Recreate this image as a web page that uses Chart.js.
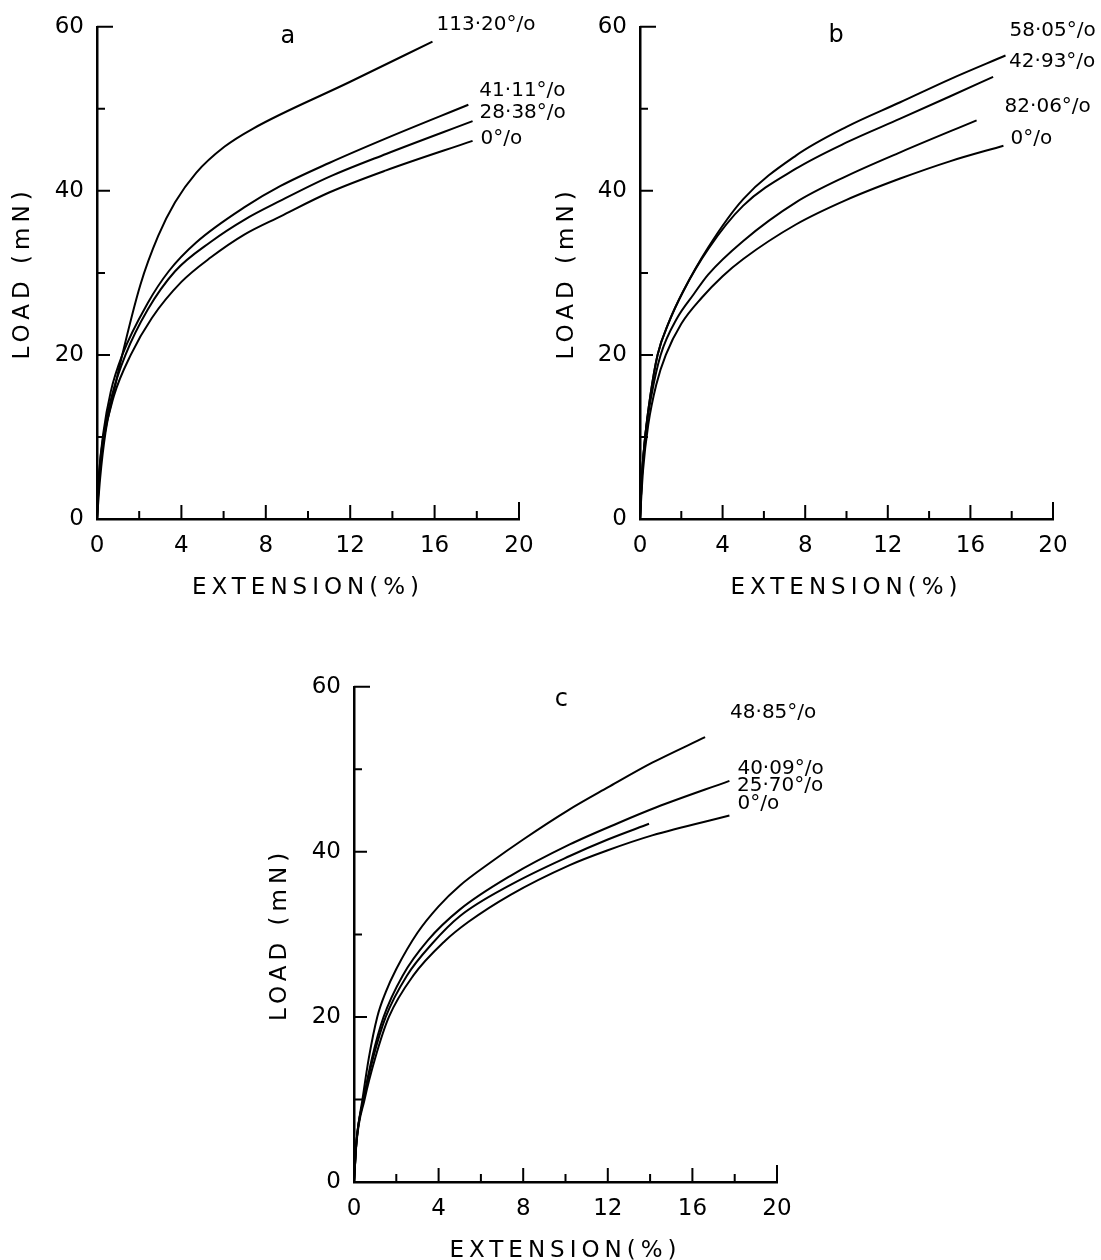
<!DOCTYPE html>
<html>
<head>
<meta charset="utf-8">
<title>Load-extension curves</title>
<script src="https://cdn.jsdelivr.net/npm/chart.js@4.4.1/dist/chart.umd.min.js"></script>
<style>
  html, body { margin: 0; padding: 0; background: #fff; overflow: hidden; }
  body { width: 1101px; height: 1260px; position: relative; }
  canvas { position: absolute; }
</style>
</head>
<body>
<canvas id="chartA" width="600" height="602" style="left:0;top:0"></canvas>
<canvas id="chartB" width="556" height="602" style="left:545px;top:0"></canvas>
<canvas id="chartC" width="843" height="605" style="left:258px;top:660px"></canvas>
<script>
// ---- panel a ----
const extA1 = [0, 0.15, 0.4, 0.8, 1.15, 2.05, 2.9, 3.7, 4.7, 6.05, 7.4, 12, 15.9];
const loadA1 = [0, 5, 10.5, 15.5, 19.5, 28.5, 34.5, 38.6, 42.2, 45.4, 47.6, 53.3, 58.2];
const extA2 = [0, 0.1, 0.3, 0.65, 1.2, 2.4, 3.4, 4.7, 7.05, 8.7, 11, 13.7, 17.6];
const loadA2 = [0, 5.5, 10.5, 15.5, 20, 26.3, 30.2, 33.7, 38.1, 40.6, 43.4, 46.4, 50.5];
const extA3 = [0, 0.1, 0.3, 0.7, 1.35, 2.4, 3.7, 5.4, 7, 8.7, 11, 13.7, 17.8];
const loadA3 = [0, 5.5, 10, 15, 20, 25.5, 30.2, 33.8, 36.5, 38.8, 41.7, 44.5, 48.5];
const extA4 = [0, 0.1, 0.3, 0.8, 1.6, 2.6, 4.0, 5.4, 7, 8.7, 11, 13.7, 17.8];
const loadA4 = [0, 5, 9.5, 15, 20, 24.5, 28.9, 31.9, 34.7, 36.9, 39.8, 42.5, 46.1];
const namesA = ['113·20°/o', '41·11°/o', '28·38°/o', '0°/o'];

// ---- panel b ----
const extB1 = [0, 0.1, 0.25, 0.5, 0.85, 1.4, 2.1, 3.3, 5.0, 7.55, 10, 12.6, 15, 17.7];
const loadB1 = [0, 5.5, 10, 15, 20, 24, 27.8, 33.1, 39.0, 44.3, 47.8, 50.8, 53.6, 56.5];
const extB2 = [0, 0.1, 0.25, 0.5, 0.85, 1.4, 2.1, 3.3, 5.0, 7.55, 10, 12.6, 15, 17.1];
const loadB2 = [0, 5.5, 10, 15, 20, 24, 27.8, 32.9, 38.2, 42.7, 45.9, 48.8, 51.5, 53.9];
const extB3 = [0, 0.1, 0.25, 0.55, 1.0, 1.8, 2.6, 3.3, 5.0, 7.55, 10, 12.6, 16.3];
const loadB3 = [0, 5.5, 10, 15, 20, 24.5, 27.4, 29.8, 33.9, 38.6, 41.8, 44.7, 48.6];
const extB4 = [0, 0.15, 0.4, 0.8, 1.25, 2, 3, 4, 5, 7.55, 10, 12.6, 15, 17.6];
const loadB4 = [0, 6, 11.5, 16.5, 20, 23.8, 27, 29.6, 31.7, 35.9, 38.9, 41.5, 43.6, 45.5];
const namesB = ['58·05°/o', '42·93°/o', '82·06°/o', '0°/o'];

// ---- panel c ----
const extC1 = [0, 0.12, 0.4, 0.7, 1.1, 1.5, 2, 3, 4, 5, 6.5, 8, 10.1, 12, 14.1, 16.6];
const loadC1 = [0, 5, 10, 15, 20, 23, 25.8, 30.2, 33.4, 35.9, 38.8, 41.5, 45.0, 47.8, 50.8, 53.9];
const extC2 = [0, 0.12, 0.45, 0.85, 1.4, 2.3, 3.5, 5.0, 7.4, 10.2, 12.5, 14.3, 17.75];
const loadC2 = [0, 5, 10, 15, 20, 25, 29.3, 33.0, 37.1, 40.9, 43.5, 45.4, 48.6];
const extC3 = [0, 0.12, 0.45, 0.9, 1.5, 2.5, 3.7, 5.0, 7.4, 10.2, 12, 13.95];
const loadC3 = [0, 5, 10, 15, 20, 25, 28.9, 32.2, 36.0, 39.5, 41.5, 43.4];
const extC4 = [0, 0.12, 0.5, 1.0, 1.65, 2.8, 4.3, 5.4, 7.4, 10.2, 12, 14.1, 17.75];
const loadC4 = [0, 4.8, 10, 15, 20, 25, 29.2, 31.5, 34.8, 38.4, 40.2, 42, 44.4];
const namesC = ['48·85°/o', '40·09°/o', '25·70°/o', '0°/o'];

const xTitle = 'EXTENSION(%)';
const yTitle = 'LOAD (mN)';

function pts(xs, ys) {
    return xs.map((x, i) => ({x: x, y: ys[i]}));
}

// inward tick marks, like the original plot
const axisTicks = {
    id: 'axisTicks',
    beforeDraw(chart) {
        chart.ctx.letterSpacing = '5px';   // axis titles
    },
    beforeDatasetsDraw(chart) {
        chart.ctx.letterSpacing = '0px';
    },
    afterDraw(chart) {
        const { ctx, chartArea: {left, bottom}, scales: {x, y} } = chart;
        ctx.save();
        ctx.strokeStyle = '#000';
        ctx.lineWidth = 2;
        ctx.beginPath();
        for (let v = 2; v <= 20; v += 2) {
            const px = x.getPixelForValue(v);
            const len = v == 20 ? 17 : (v % 4 == 0 ? 14 : 8);
            ctx.moveTo(px, bottom);
            ctx.lineTo(px, bottom - len);
        }
        for (let v = 10; v <= 60; v += 10) {
            const py = y.getPixelForValue(v);
            const len = v == 60 ? 16 : (v % 20 == 0 ? 13 : 8);
            ctx.moveTo(left, py);
            ctx.lineTo(left + len, py);
        }
        ctx.stroke();
        ctx.restore();
    }
};

// curve names at the end of each curve + panel letter
const curveNames = {
    id: 'curveNames',
    afterDraw(chart, args, opts) {
        const { ctx, scales: {x, y} } = chart;
        ctx.save();
        ctx.fillStyle = '#000';
        ctx.font = '20px "DejaVu Sans"';
        ctx.textAlign = 'left';
        ctx.textBaseline = 'middle';
        chart.data.datasets.forEach((ds, i) => {
            const meta = chart.getDatasetMeta(i);
            const last = meta.data[meta.data.length - 1];
            ctx.fillText(ds.label, last.x + opts.offsets[i][0], last.y + opts.offsets[i][1]);
        });
        ctx.font = '24px "DejaVu Sans"';
        ctx.textAlign = 'center';
        ctx.fillText(opts.letter, x.getPixelForValue(opts.letterAt[0]), y.getPixelForValue(opts.letterAt[1]));
        ctx.restore();
    }
};

function makePanel(id, series, names, panel) {
    const datasets = series.map((s, i) => ({
        label: names[i],
        data: pts(s[0], s[1]),
        borderColor: '#000',
        borderWidth: 2,
        pointRadius: 0,
        fill: false,
        cubicInterpolationMode: 'monotone',
        clip: false
    }));
    const tickFont = { family: 'DejaVu Sans', size: 23 };
    const titleFont = { family: 'DejaVu Sans', size: 23 };
    return new Chart(document.getElementById(id), {
        type: 'line',
        data: { datasets },
        options: {
            responsive: false,
            animation: false,
            layout: { padding: panel.padding },
            plugins: {
                legend: { display: false },
                tooltip: { enabled: false },
                curveNames: { offsets: panel.offsets, letter: panel.letter, letterAt: panel.letterAt }
            },
            scales: {
                x: {
                    type: 'linear', min: 0, max: 20,
                    afterFit: s => { s.height = 83; },
                    ticks: { stepSize: 4, color: '#000', font: tickFont, padding: 13, z: 1, maxRotation: 0 },
                    grid: { display: true, drawOnChartArea: false, drawTicks: false },
                    border: { display: true, color: '#000', width: 2.5 },
                    title: { display: true, text: xTitle, color: '#000', font: titleFont, padding: 0 }
                },
                y: {
                    type: 'linear', min: 0, max: 60,
                    afterFit: s => { s.width = panel.yWidth; },
                    ticks: { stepSize: 20, color: '#000', font: tickFont, padding: 13, z: 1 },
                    grid: { display: true, drawOnChartArea: false, drawTicks: false },
                    border: { display: true, color: '#000', width: 2.5 },
                    title: { display: true, text: yTitle, color: '#000', font: titleFont, padding: { top: panel.titlePad, bottom: 0 } }
                }
            }
        },
        plugins: [axisTicks, curveNames]
    });
}

makePanel('chartA',
    [[extA1, loadA1], [extA2, loadA2], [extA3, loadA3], [extA4, loadA4]], namesA,
    { padding: { top: 19, right: 81, left: 0, bottom: 0 }, yWidth: 97, titlePad: 9,
      offsets: [[4, -17], [11, -14], [7, -8], [8, -2]], letter: 'a', letterAt: [9.05, 58.8] });

makePanel('chartB',
    [[extB1, loadB1], [extB2, loadB2], [extB3, loadB3], [extB4, loadB4]], namesB,
    { padding: { top: 19, right: 48, left: 0, bottom: 0 }, yWidth: 95, titlePad: 8,
      offsets: [[4, -25], [16, -15], [28, -14], [7, -7]], letter: 'b', letterAt: [9.5, 58.9] });

makePanel('chartC',
    [[extC1, loadC1], [extC2, loadC2], [extC3, loadC3], [extC4, loadC4]], namesC,
    { padding: { top: 22, right: 324, left: 0, bottom: 0 }, yWidth: 96, titlePad: 8,
      offsets: [[25, -24], [8, -12], [88, -38], [8, -12]], letter: 'c', letterAt: [9.8, 58.4] });
</script>
</body>
</html>
